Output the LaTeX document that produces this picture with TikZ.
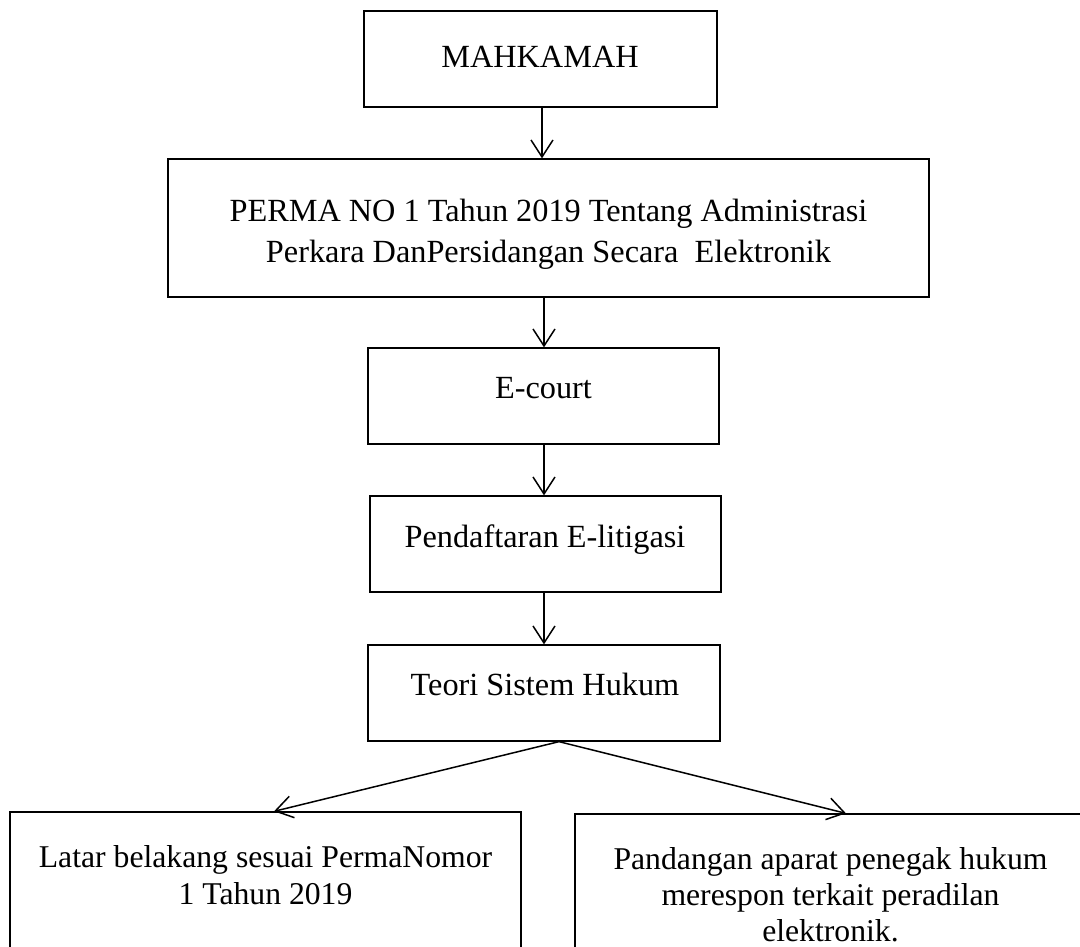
\documentclass[tikz,border=0pt]{standalone}
\usepackage{fontspec}
\setmainfont{Liberation Serif}
\usetikzlibrary{arrows.meta}
\begin{document}
\begin{tikzpicture}[x=1pt,y=-1pt,
  box/.style={draw, line width=1.3pt, inner sep=0pt},
  txt/.style={anchor=base, inner sep=0pt, font=\fontsize{32.3}{38}\selectfont},
  btxt/.style={anchor=base, inner sep=0pt, font=\fontsize{31.7}{37}\selectfont},
  conn/.style={line width=1.5pt, -{Straight Barb[length=17pt,width=22pt,line width=1.5pt]}}]
\useasboundingbox (0,0) rectangle (1080,947);
\fill[white] (0,0) rectangle (1080,947);
% boxes
\node[box, minimum width=353pt, minimum height=96pt] (b1) at (540.5,59) {};
\node[box, minimum width=761pt, minimum height=138pt] (b2) at (548.5,228) {};
\node[box, minimum width=351pt, minimum height=96pt] (b3) at (543.5,396) {};
\node[box, minimum width=351pt, minimum height=96pt] (b4) at (545.5,544) {};
\node[box, minimum width=352pt, minimum height=96pt] (b5) at (544,693) {};
\node[box, minimum width=511pt, minimum height=188pt] (b6) at (265.5,906) {};
\node[box, minimum width=510pt, minimum height=186pt] (b7) at (830,907) {};
% texts
\node[txt] (t1) at (540,68) {MAHKAMAH};
\node[txt] (t2a) at (548.5,222) {PERMA NO 1 Tahun 2019 Tentang Administrasi};
\node[txt] (t2b) at (548.5,262) {Perkara DanPersidangan Secara\ \ Elektronik};
\node[txt] (t3) at (543.5,398) {E-court};
\node[txt] (t4) at (545,547) {Pendaftaran E-litigasi};
\node[txt] (t5) at (545,695) {Teori Sistem Hukum};
\node[btxt] (t6a) at (265.5,867) {Latar belakang sesuai PermaNomor};
\node[btxt] (t6b) at (265.5,904) {1 Tahun 2019};
\node[btxt] (t7a) at (830.5,869) {Pandangan aparat penegak hukum};
\node[btxt] (t7b) at (830.5,905) {merespon terkait peradilan};
\node[btxt] (t7c) at (830.5,941) {elektronik.};
% connectors
\draw[conn] ([xshift=1.5pt]b1.south) -- ([xshift=1.5pt]b1.south |- b2.north);
\draw[conn] ([xshift=-4.5pt]b2.south) -- ([xshift=-4.5pt]b2.south |- b3.north);
\draw[conn] ([xshift=0.5pt]b3.south) -- ([xshift=0.5pt]b3.south |- b4.north);
\draw[conn] ([xshift=-1.5pt]b4.south) -- ([xshift=-1.5pt]b4.south |- b5.north);
\coordinate (apex) at ([xshift=15pt]b5.south);
\draw[conn] (apex) -- ([xshift=8.5pt]b6.north);
\draw[conn] (apex) -- ([xshift=16pt]b7.north);
\end{tikzpicture}
\end{document}
